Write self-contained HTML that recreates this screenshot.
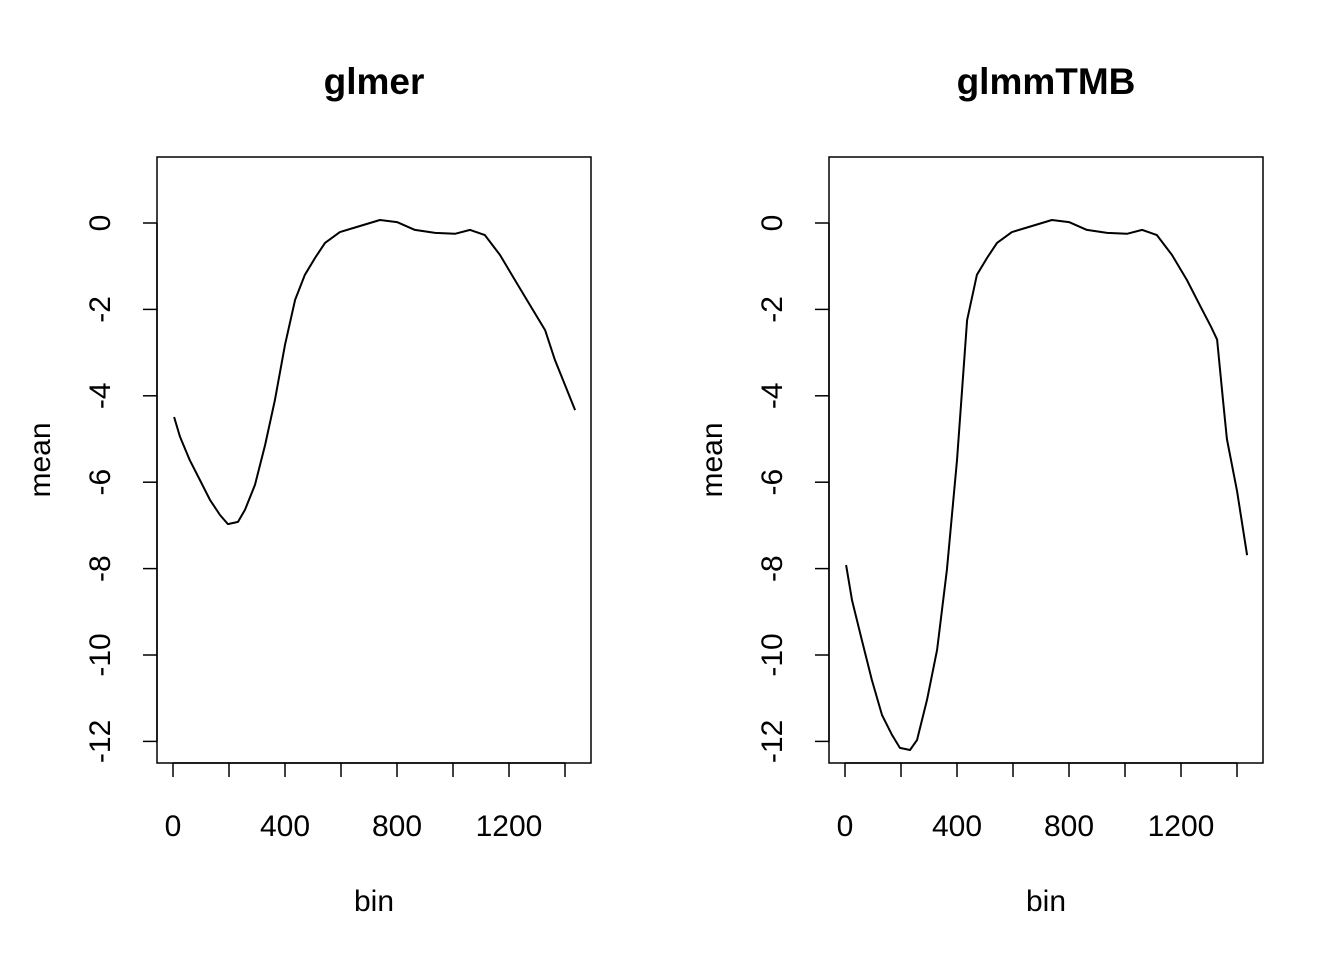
<!DOCTYPE html>
<html><head><meta charset="utf-8">
<style>
html,body{margin:0;padding:0;background:#fff;}
svg{display:block;font-family:"Liberation Sans",Arial,sans-serif;}
</style></head>
<body>
<svg id="chart" width="1344" height="960" viewBox="0 0 1344 960" xmlns="http://www.w3.org/2000/svg"></svg>
<script>
const xTicks = [0,200,400,600,800,1000,1200,1400];
const xTickLabels = ["0","","400","","800","","1200",""];
const yTicks = [0,-2,-4,-6,-8,-10,-12];
const yTickLabels = ["0","-2","-4","-6","-8","-10","-12"];
const glmerBins = [4,25,60,96,132,168,196,232,257,293,329,364,400,436,471,507,543,596,668,739,800,864,936,1007,1061,1114,1168,1221,1275,1329,1364,1400,1436];
const glmerMean = [-4.49,-4.95,-5.49,-5.95,-6.41,-6.76,-6.97,-6.92,-6.64,-6.06,-5.14,-4.10,-2.82,-1.78,-1.20,-0.81,-0.46,-0.21,-0.07,0.07,0.02,-0.16,-0.23,-0.25,-0.16,-0.28,-0.74,-1.32,-1.90,-2.48,-3.17,-3.75,-4.33];
const tmbBins = [4,25,60,96,132,168,196,232,257,293,329,364,400,436,471,507,543,596,668,739,800,864,936,1007,1061,1114,1168,1221,1275,1307,1329,1350,1364,1400,1436];
const tmbMean = [-7.92,-8.73,-9.65,-10.58,-11.39,-11.85,-12.15,-12.2,-11.97,-11.04,-9.88,-8.03,-5.49,-2.25,-1.20,-0.81,-0.46,-0.21,-0.07,0.07,0.02,-0.16,-0.23,-0.25,-0.16,-0.28,-0.74,-1.32,-2.0,-2.4,-2.7,-4.1,-5.0,-6.2,-7.69];

const svg = document.getElementById('chart');
const NS = 'http://www.w3.org/2000/svg';
function mk(tag, attrs, parent){ const e=document.createElementNS(NS,tag); for(const k in attrs) e.setAttribute(k,attrs[k]); (parent||svg).appendChild(e); return e; }

function panel(offset, title, bins, vals, key){
  const g = mk('g',{});
  
  
  const x = v => offset + 173 + v*0.28;
  const y = v => 223 - v*43.2;
  const L = offset+157, R = offset+591, T = 157, B = 763;
  const box = mk('rect',{x:L,y:T,width:R-L,height:B-T,fill:'none',stroke:'#000','stroke-width':1.5},g);
  
  
  const t = mk('text',{x:offset+374,y:94,'text-anchor':'middle','font-size':37,'font-weight':'bold'},g);
  t.textContent = title;
  
  
  const xa = mk('line',{x1:x(xTicks[0]),x2:x(xTicks[xTicks.length-1]),y1:B,y2:B,stroke:'#000','stroke-width':1.5},g);
  
  
  xTicks.forEach((v,i)=>{
    mk('line',{x1:x(v),x2:x(v),y1:B,y2:B+14,stroke:'#000','stroke-width':1.5},g);
    if(xTickLabels[i]){
      const tl = mk('text',{x:x(v),y:836,'text-anchor':'middle','font-size':30},g);
      tl.textContent = xTickLabels[i];
      
      
    }
  });
  const xt = mk('text',{x:offset+374,y:911,'text-anchor':'middle','font-size':30},g);
  xt.textContent='bin';
  
  
  const ya = mk('line',{x1:L,x2:L,y1:y(yTicks[0]),y2:y(yTicks[yTicks.length-1]),stroke:'#000','stroke-width':1.5},g);
  
  
  yTicks.forEach((v,i)=>{
    mk('line',{x1:L-14,x2:L,y1:y(v),y2:y(v),stroke:'#000','stroke-width':1.5},g);
    const tl = mk('text',{x:0,y:0,'text-anchor':'middle','font-size':30,transform:`translate(${L-47},${y(v)}) rotate(-90)`},g);
    tl.textContent = yTickLabels[i];
    
    
  });
  const yt = mk('text',{x:0,y:0,'text-anchor':'middle','font-size':30,transform:`translate(${offset+50},460) rotate(-90)`},g);
  yt.textContent='mean';
  
  
  const d = bins.map((b,i)=>(i?'L':'M')+x(b).toFixed(1)+' '+y(vals[i]).toFixed(1)).join(' ');
  const p = mk('path',{d:d,fill:'none',stroke:'#000','stroke-width':2,'stroke-linejoin':'round'},g);
  
  
}
panel(0,'glmer',glmerBins,glmerMean,'glmer');
panel(672,'glmmTMB',tmbBins,tmbMean,'glmmtmb');
</script>
</body></html>
